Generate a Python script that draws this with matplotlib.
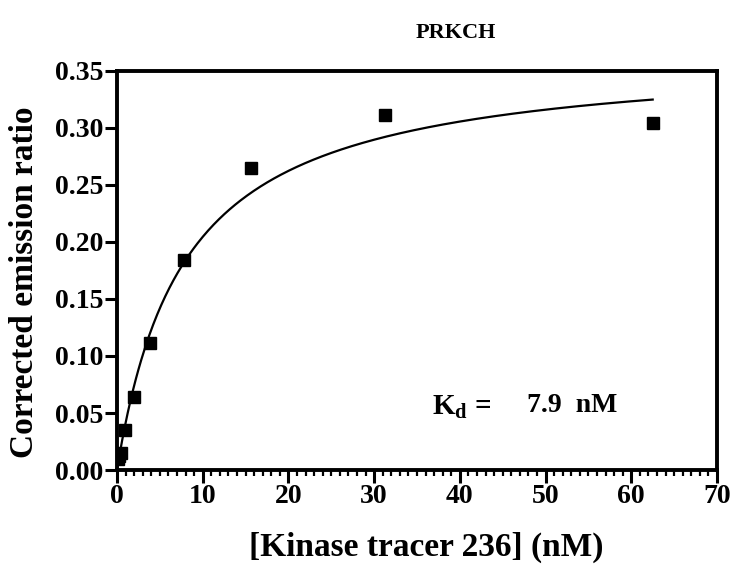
import matplotlib
matplotlib.use("Agg")
import matplotlib.pyplot as plt
from matplotlib.ticker import MultipleLocator
import numpy as np

plt.rcParams['font.family'] = 'Liberation Serif'
plt.rcParams['font.weight'] = 'bold'
plt.rcParams['mathtext.fontset'] = 'custom'
plt.rcParams['mathtext.rm'] = 'Liberation Serif:bold'
plt.rcParams['mathtext.bf'] = 'Liberation Serif:bold'
plt.rcParams['mathtext.it'] = 'Liberation Serif:bold'

# tracer concentration (nM) and corrected emission ratio
tracer_nM = [0.12, 0.24, 0.49, 0.98, 1.95, 3.9, 7.8, 15.6, 31.25, 62.5]
emission_ratio = [0.010, 0.012, 0.015, 0.035, 0.064, 0.111, 0.184, 0.265, 0.311, 0.304]

# one-site binding fit parameters
bmax = 0.366
kd = 7.9

fig = plt.figure(figsize=(7.32, 5.66), dpi=100)
ax = fig.add_axes([0.1598, 0.1696, 0.8197, 0.705])

xfit = np.linspace(0, max(tracer_nM), 400)
yfit = bmax * xfit / (kd + xfit)
ax.plot(xfit, yfit, color='black', lw=1.6, zorder=2)
ax.plot(tracer_nM, emission_ratio, 's', color='black', ms=8, zorder=3)

ax.set_xlim(0, 70)
ax.set_ylim(0, 0.35)
ax.xaxis.set_major_locator(MultipleLocator(10))
ax.xaxis.set_minor_locator(MultipleLocator(1))
ax.yaxis.set_major_locator(MultipleLocator(0.05))
ax.yaxis.set_major_formatter(matplotlib.ticker.FormatStrFormatter('%.2f'))

for s in ax.spines.values():
    s.set_linewidth(2.8)
ax.tick_params(which='major', length=9, width=2.2, labelsize=20, pad=1)
ax.tick_params(which='minor', length=4.5, width=1.6)
ax.tick_params(axis='y', which='minor', left=False)

ax.set_xlabel('[Kinase tracer 236] (nM)', fontsize=24, fontweight='bold')
ax.set_ylabel('Corrected emission ratio', fontsize=24, fontweight='bold')
ax.xaxis.set_label_coords(0.515, -0.155)
ax.yaxis.set_label_coords(-0.128, 0.47)
ax.set_title('PRKCH', fontsize=16, fontweight='bold', pad=24, x=0.565)

ax.text(0.525, 0.138, r'K$_\mathrm{d}$ =', transform=ax.transAxes,
        fontsize=21, fontweight='bold', ha='left', va='baseline')
ax.text(0.683, 0.145, '7.9  nM', transform=ax.transAxes,
        fontsize=20, fontweight='bold', ha='left', va='baseline')

fig.savefig('out.png', dpi=100)
